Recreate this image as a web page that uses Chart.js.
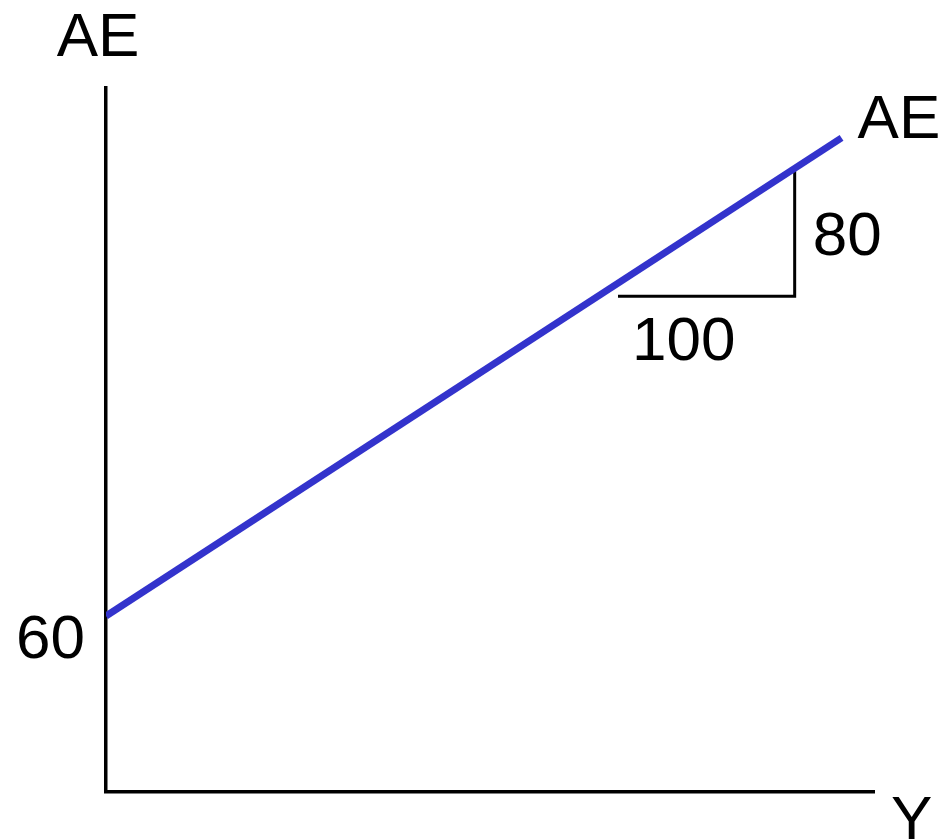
<!DOCTYPE html>
<html lang="en">
  <head>
    <meta charset="UTF-8" />
    <title>AE</title>
    <script src="https://cdn.jsdelivr.net/npm/chart.js"></script>
    <style>
      body {
        margin: 0;
        background: #fff;
      }

      .chart-container {
        width: 946px;
        height: 840px;
      }
    </style>
  </head>
  <body>
    <div class="chart-container">
      <canvas id="ae_chart"></canvas>
    </div>

    <script>
      // AE line: intercept 60, slope 0.8
      const aeX = [0, 204];
      const aeY = [60, 223];

      // slope triangle (run / rise)
      const triX = [142, 191, 191];
      const triY = [169, 169, 213];

      const interceptLabel = "60";
      const runLabel = "100";
      const riseLabel = "80";
      const lineLabel = "AE";
      const yAxisLabel = "AE";
      const xAxisLabel = "Y";

      const font = '62px "Liberation Sans", Arial, sans-serif';

      // draws the axis names and the triangle labels
      const labelsPlugin = {
        id: "labels",
        afterDraw(chart) {
          const ctx = chart.ctx;
          const x = chart.scales.x;
          const y = chart.scales.y;
          const area = chart.chartArea;
          ctx.save();
          ctx.font = font;
          ctx.fillStyle = "#000";
          ctx.textBaseline = "alphabetic";

          ctx.textAlign = "center";
          ctx.fillText(yAxisLabel, area.left - 8, area.top - 32);

          ctx.textAlign = "left";
          ctx.fillText(xAxisLabel, area.right + 17, area.bottom + 47);

          ctx.textAlign = "right";
          ctx.fillText(interceptLabel, area.left - 21, y.getPixelForValue(aeY[0]) + 42);

          ctx.textAlign = "left";
          ctx.fillText(riseLabel, x.getPixelForValue(triX[1]) + 18, y.getPixelForValue(triY[1]) - 41);
          ctx.fillText(runLabel, x.getPixelForValue(triX[0]) + 14, y.getPixelForValue(triY[0]) + 64);
          ctx.fillText(lineLabel, x.getPixelForValue(aeX[1]) + 16, y.getPixelForValue(aeY[1]));
          ctx.restore();
        },
      };

      new Chart(document.getElementById("ae_chart").getContext("2d"), {
        type: "scatter",
        data: {
          datasets: [
            {
              label: "AE",
              data: aeX.map((v, i) => ({ x: v, y: aeY[i] })),
              showLine: true,
              borderColor: "rgb(51, 51, 204)",
              borderWidth: 7,
              pointRadius: 0,
              borderCapStyle: "butt",
            },
            {
              label: "slope",
              data: triX.map((v, i) => ({ x: v, y: triY[i] })),
              showLine: true,
              borderColor: "#000",
              borderWidth: 3,
              pointRadius: 0,
              borderJoinStyle: "miter",
            },
          ],
        },
        options: {
          responsive: true,
          maintainAspectRatio: false,
          animation: false,
          layout: {
            padding: { left: 106, right: 72, top: 88, bottom: 48 },
          },
          plugins: {
            legend: { display: false },
            tooltip: { enabled: false },
          },
          scales: {
            x: {
              type: "linear",
              min: 0,
              max: 213,
              grid: { display: false, drawTicks: false },
              ticks: { display: false },
              border: { display: true, color: "#000", width: 3.5 },
            },
            y: {
              type: "linear",
              min: 0,
              max: 240,
              grid: { display: false, drawTicks: false },
              ticks: { display: false },
              border: { display: true, color: "#000", width: 3.5 },
            },
          },
        },
        plugins: [labelsPlugin],
      });
    </script>
  </body>
</html>
